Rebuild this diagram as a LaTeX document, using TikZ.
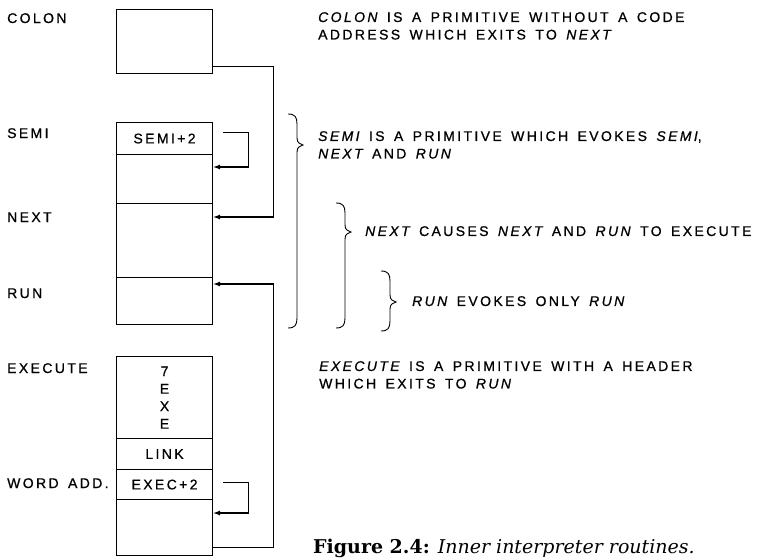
\documentclass[tikz,border=0pt]{standalone}
\usepackage{fontspec}
\setmainfont{DejaVu Serif}
\newfontfamily\lettfont[LetterSpace=17,WordSpace=1.5,FakeBold=0.8]{Liberation Sans}
\usetikzlibrary{arrows.meta,calc}

% curly brace opening to the right: x of stem, top, tip, bottom
\newcommand{\curlybr}[4]{%
  \draw[brace line] (#1-9,#2) .. controls (#1-2,#2) and (#1,#2+3) .. (#1,#2+10)
    -- (#1,#3-7) .. controls (#1,#3-2) and (#1+3,#3-1) .. (#1+6,#3)
    .. controls (#1+3,#3+1) and (#1,#3+2) .. (#1,#3+7)
    -- (#1,#4-10) .. controls (#1,#4-3) and (#1-2,#4) .. (#1-9,#4);}

\tikzset{
  cell/.style={draw, line width=1.1pt, minimum width=96pt, inner sep=0pt,
    anchor=north west, font=\lettfont\fontsize{14}{17.5}\selectfont},
  feed/.style={line width=1.1pt, -{Latex[length=7pt,width=5pt]}},
  brace line/.style={line width=0.9pt},
  tag/.style={anchor=base west, inner sep=0pt, font=\lettfont\fontsize{14}{17.5}\selectfont},
  note/.style={anchor=north west, inner sep=0pt, align=left,
    font=\lettfont\fontsize{14}{17.5}\selectfont},
}

\begin{document}
\begin{tikzpicture}[x=1pt, y=-1pt]
  \useasboundingbox (0,0) rectangle (776,557);

  % Memory cells
  \node[cell, minimum height=64pt] (colon) at (116,9) {};
  \node[cell, minimum height=32pt] (semi) at (116,122) {SEMI+2};
  \node[cell, minimum height=49pt] (semib) at (116,154) {};
  \node[cell, minimum height=74pt] (next) at (116,203) {};
  \node[cell, minimum height=47pt] (run) at (116,277) {};
  \node[cell, minimum height=82pt, align=center] (head) at (116,356) {7\\E\\X\\E};
  \node[cell, minimum height=31pt] (link) at (116,438) {LINK};
  \node[cell, minimum height=30pt] (exec) at (116,469) {EXEC+2};
  \node[cell, minimum height=56pt] (execb) at (116,499) {};

  % Names on the left
  \node[tag] (tcolon) at (7,23) {COLON};
  \node[tag] (tsemi) at (7,138) {SEMI};
  \node[tag] (tnext) at (7,222) {NEXT};
  \node[tag] (trun) at (7,298) {RUN};
  \node[tag] (texec) at (7,373) {EXECUTE};
  \node[tag] (tword) at (7,488) {WORD\ ADD.};

  % Jumps
  \draw[feed] ($(colon.south east)+(0,-8)$) -- ++(60,0) |- ($(next.north east)+(0,14)$);
  \draw[feed] ($(semi.east)+(10,-6)$) -- ++(25,0) |- ($(semib.north east)+(0,13)$);
  \draw[feed] ($(execb.south east)+(0,-9)$) -- ++(60,0) |- ($(run.north east)+(0,7)$);
  \draw[feed] ($(exec.east)+(10,-2)$) -- ++(25,0) |- ($(execb.north east)+(0,14)$);

  % Braces
  \curlybr{297}{114}{145}{328}
  \curlybr{345}{203}{232}{328}
  \curlybr{390}{271}{302}{331}

  % Remarks
  \node[note] (ncolon) at (318,12) {{\itshape COLON} IS A PRIMITIVE WITHOUT A CODE\\ADDRESS WHICH EXITS TO {\itshape NEXT}};
  \node[note] (nsemi) at (318,131) {{\itshape SEMI} IS A PRIMITIVE WHICH EVOKES {\itshape SEMI},\\{\itshape NEXT} AND {\itshape RUN}};
  \node[note] (nnext) at (365,226) {{\itshape NEXT} CAUSES {\itshape NEXT} AND {\itshape RUN} TO EXECUTE};
  \node[note] (nrun) at (412,296) {{\itshape RUN} EVOKES ONLY {\itshape RUN}};
  \node[note] (nexec) at (319,361) {{\itshape EXECUTE} IS A PRIMITIVE WITH A HEADER\\WHICH EXITS TO {\itshape RUN}};

  \node[anchor=base west, inner sep=0pt, font=\fontsize{19}{21}\selectfont] (caption) at (313,553)
    {\textbf{Figure 2.4:} \textit{Inner interpreter routines.}};
\end{tikzpicture}
\end{document}
